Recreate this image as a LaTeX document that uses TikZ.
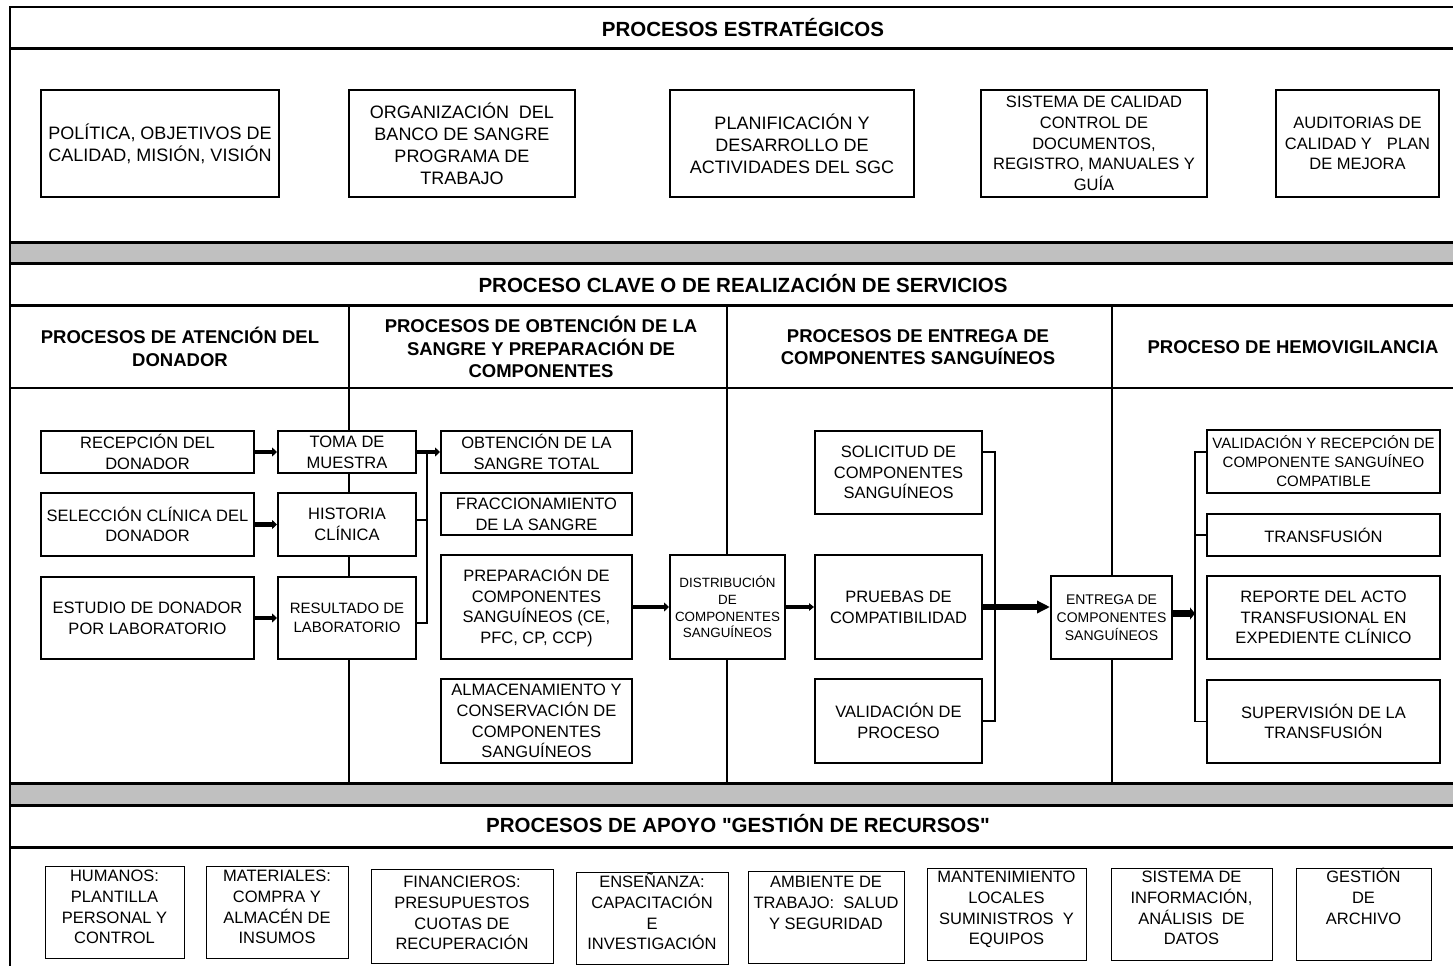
\documentclass[tikz,border=0pt]{standalone}
\usepackage{fontspec}
\setmainfont{Liberation Sans}
\newfontfamily\qfont{Liberation Sans}
\usetikzlibrary{arrows.meta}
\definecolor{bandgray}{RGB}{192,192,192}
\newcommand\myfT{\fontsize{20.5}{24}\selectfont\bfseries}
\newcommand\myfH{\fontsize{18.5}{22.5}\selectfont\bfseries}
\newcommand\myfA{\fontsize{18}{22}\selectfont}
\newcommand\myfB{\fontsize{16.5}{20.7}\selectfont}
\newcommand\myfC{\fontsize{15}{19}\selectfont}
\newcommand\myfD{\fontsize{13.4}{16.7}\selectfont}
\newcommand\myfE{\fontsize{14}{18}\selectfont}
\newcommand\myq{{\qfont"}}
\begin{document}
\begin{tikzpicture}[x=1pt,y=-1pt,
  box/.style={draw, line width=2pt, fill=white, align=center, inner sep=0pt, font=\myfB},
  topbox/.style={box, line width=2.3pt, font=\myfA},
  botbox/.style={draw, line width=1pt, fill=white, inner sep=0pt},
  bottext/.style={align=center, inner sep=0pt, anchor=north, font=\myfB},
  sectitle/.style={font=\myfT, inner sep=0pt},
  colhead/.style={font=\myfH, align=center, inner sep=0pt},
  rule/.style={line width=3pt},
  colline/.style={line width=1.8pt},
  brk/.style={line width=1.3pt},
  arr/.style={line width=4.5pt, -{Triangle[length=5pt,width=9pt]}},
  thinarr/.style={line width=3.5pt, -{Triangle[length=5pt,width=7.5pt]}},
  bigarr/.style={line width=5.5pt, -{Triangle[length=13pt,width=12pt]}},
  fatarr/.style={line width=7pt, -{Triangle[length=5pt,width=12pt]}}
]
\useasboundingbox (0,0) rectangle (1453,966);

% frame and bands
\fill[bandgray] (10,242) rectangle (1453,263);
\fill[bandgray] (10,783) rectangle (1453,805);
\draw[line width=2pt] (1453,7) -- (10,7) -- (10,966);
\draw[rule] (10,49) -- (1453,49);
\draw[rule] (10,242) -- (1453,242);
\draw[rule] (10,263) -- (1453,263);
\draw[rule] (10,305) -- (1453,305);
\draw[line width=2.2pt] (10,388) -- (1453,388);
\draw[rule] (10,783) -- (1453,783);
\draw[rule] (10,805) -- (1453,805);
\draw[rule] (10,847) -- (1453,847);
\draw[colline] (349,305) -- (349,783);
\draw[colline] (727,305) -- (727,783);
\draw[colline] (1112,305) -- (1112,783);

% section titles
\node[sectitle] (t1) at (743,28) {PROCESOS ESTRATÉGICOS};
\node[sectitle] (t2) at (743,284) {PROCESO CLAVE O DE REALIZACIÓN DE SERVICIOS};
\node[sectitle] (t3) at (738,824) {PROCESOS DE APOYO \myq GESTIÓN DE RECURSOS\myq};

% column headers
\node[colhead] (h1) at (180,347) {PROCESOS DE ATENCIÓN DEL\\DONADOR};
\node[colhead] (h2) at (541,347) {PROCESOS DE OBTENCIÓN DE LA\\SANGRE Y PREPARACIÓN DE\\COMPONENTES};
\node[colhead] (h3) at (918,347) {PROCESOS DE ENTREGA DE\\COMPONENTES SANGUÍNEOS};
\node[colhead] (h4) at (1293,347) {PROCESO DE HEMOVIGILANCIA};

% strategic boxes
\node[topbox, minimum width=238pt, minimum height=107pt] (pol) at (160,143.5) {POLÍTICA, OBJETIVOS DE\\CALIDAD, MISIÓN, VISIÓN};
\node[topbox, minimum width=226pt, minimum height=107pt] (org) at (462,143.5) {ORGANIZACIÓN\ \ DEL\\BANCO DE SANGRE\\PROGRAMA DE\\TRABAJO};
\node[topbox, minimum width=244pt, minimum height=107pt] (pla) at (792,143.5) {PLANIFICACIÓN Y\\DESARROLLO DE\\ACTIVIDADES DEL SGC};
\node[topbox, font=\myfB, minimum width=226pt, minimum height=107pt] (sis) at (1094,143.5) {SISTEMA DE CALIDAD\\CONTROL DE\\DOCUMENTOS,\\REGISTRO, MANUALES Y\\GUÍA};
\node[topbox, font=\myfB, minimum width=163pt, minimum height=107pt] (aud) at (1357.5,143.5) {AUDITORIAS DE\\CALIDAD Y\hspace{15pt}PLAN\\DE MEJORA};

% column 1
\node[box, minimum width=213pt, minimum height=42pt] (rec) at (147.5,452) {RECEPCIÓN DEL\\DONADOR};
\node[box, minimum width=213pt, minimum height=63pt] (sel) at (147.5,524.5) {SELECCIÓN CLÍNICA DEL\\DONADOR};
\node[box, minimum width=213pt, minimum height=82pt] (est) at (147.5,618) {ESTUDIO DE DONADOR\\POR LABORATORIO};
\node[box, minimum width=138pt, minimum height=42pt] (toma) at (347,452) {TOMA DE\\MUESTRA};
\node[box, minimum width=138pt, minimum height=63pt] (hist) at (347,524.5) {HISTORIA\\CLÍNICA};
\node[box, font=\myfC, minimum width=138pt, minimum height=82pt] (res) at (347,618) {RESULTADO DE\\LABORATORIO};

% column 2
\node[box, minimum width=191pt, minimum height=42pt] (obt) at (536.5,452) {OBTENCIÓN DE LA\\SANGRE TOTAL};
\node[box, minimum width=191pt, minimum height=42pt] (fra) at (536.5,514) {FRACCIONAMIENTO\\DE LA SANGRE};
\node[box, minimum width=191pt, minimum height=104pt] (pre) at (536.5,607) {PREPARACIÓN DE\\COMPONENTES\\SANGUÍNEOS (CE,\\PFC, CP, CCP)};
\node[box, minimum width=191pt, minimum height=84pt] (alm) at (536.5,721) {ALMACENAMIENTO Y\\CONSERVACIÓN DE\\COMPONENTES\\SANGUÍNEOS};
\node[box, font=\myfD, minimum width=115pt, minimum height=104pt] (dis) at (727.5,607) {DISTRIBUCIÓN\\DE\\COMPONENTES\\SANGUÍNEOS};

% column 3
\node[box, minimum width=167pt, minimum height=83pt] (sol) at (898.5,472.5) {SOLICITUD DE\\COMPONENTES\\SANGUÍNEOS};
\node[box, minimum width=167pt, minimum height=104pt] (pru) at (898.5,607) {PRUEBAS DE\\COMPATIBILIDAD};
\node[box, minimum width=167pt, minimum height=84pt] (val) at (898.5,721) {VALIDACIÓN DE\\PROCESO};
\node[box, font=\myfE, minimum width=121pt, minimum height=83pt] (ent) at (1111.5,617.5) {ENTREGA DE\\COMPONENTES\\SANGUÍNEOS};

% column 4
\node[box, font=\myfC, minimum width=233pt, minimum height=63pt] (vrc) at (1323.5,461.5) {VALIDACIÓN Y RECEPCIÓN DE\\COMPONENTE SANGUÍNEO\\COMPATIBLE};
\node[box, minimum width=233pt, minimum height=42pt] (tra) at (1323.5,535) {TRANSFUSIÓN};
\node[box, minimum width=233pt, minimum height=83pt] (rep) at (1323.5,617.5) {REPORTE DEL ACTO\\TRANSFUSIONAL EN\\EXPEDIENTE CLÍNICO};
\node[box, minimum width=233pt, minimum height=83pt] (sup) at (1323.5,721.5) {SUPERVISIÓN DE LA\\TRANSFUSIÓN};

% connectors column 1
\draw[arr] (rec) -- (toma);
\draw[arr] (sel) -- (hist);
\draw[arr] (est) -- (res);
\coordinate (b1t) at (427,452);
\coordinate (rest) at ([yshift=-5pt]res.east);
\coordinate (histt) at ([yshift=4.5pt]hist.east);
\draw[brk] (b1t) -- (b1t |- rest) -- (rest);
\draw[brk] (histt) -- (histt -| b1t);
\draw[arr] (toma) -- (obt);
\draw[arr] (pre) -- (dis);
\draw[thinarr] (dis) -- (pru);

% connectors column 3
\coordinate (b2t) at (995,452);
\draw[brk] (b2t -| sol.east) -- (b2t) -- (b2t |- val.east) -- (val.east);
\draw[bigarr] (pru.east) -- (pru.east -| ent.west);

% connectors column 4
\coordinate (b3t) at (1195,452);
\coordinate (entt) at ([yshift=4pt]ent.east);
\draw[brk] (b3t -| vrc.west) -- (b3t) -- (b3t |- sup.west) -- (sup.west);
\draw[brk] (tra.west) -- (tra.west -| b3t);
\draw[fatarr] (entt) -- (entt -| b3t);

% support boxes
\node[botbox, minimum width=139pt, minimum height=92pt] (hum) at (114.5,912) {};
\node[bottext] (humt) at ([yshift=-1.5pt]hum.north) {\strut HUMANOS:\\PLANTILLA\\PERSONAL Y\\CONTROL};
\node[botbox, minimum width=142pt, minimum height=92pt] (mat) at (277,912) {};
\node[bottext] (matt) at ([yshift=-1.5pt]mat.north) {\strut MATERIALES:\\COMPRA Y\\ALMACÉN DE\\INSUMOS};
\node[botbox, minimum width=182pt, minimum height=94pt] (fin) at (462,916) {};
\node[bottext] (fint) at ([yshift=-4.5pt]fin.north) {\strut FINANCIEROS:\\PRESUPUESTOS\\CUOTAS DE\\RECUPERACIÓN};
\node[botbox, minimum width=152pt, minimum height=92pt] (ens) at (652,918) {};
\node[bottext] (enst) at ([yshift=-1.5pt]ens.north) {\strut ENSEÑANZA:\\CAPACITACIÓN\\E\\INVESTIGACIÓN};
\node[botbox, minimum width=156pt, minimum height=92pt] (amb) at (826,917) {};
\node[bottext] (ambt) at ([yshift=-2.5pt]amb.north) {\strut AMBIENTE DE\\TRABAJO:\ \ SALUD\\Y SEGURIDAD};
\node[botbox, minimum width=159pt, minimum height=92pt] (man) at (1006.5,914) {};
\node[bottext] (mant) at ([yshift=-0.5pt]man.north) {\strut MANTENIMIENTO\\LOCALES\\SUMINISTROS\ \ Y\\EQUIPOS};
\node[botbox, minimum width=161pt, minimum height=92pt] (inf) at (1191.5,914) {};
\node[bottext] (inft) at ([yshift=-0.5pt]inf.north) {\strut SISTEMA DE\\INFORMACIÓN,\\ANÁLISIS\ \ DE\\DATOS};
\node[botbox, minimum width=135pt, minimum height=92pt] (arc) at (1363.5,914) {};
\node[bottext] (arct) at ([yshift=-0.5pt]arc.north) {\strut GESTIÓN\\DE\\ARCHIVO};
\end{tikzpicture}
\end{document}
